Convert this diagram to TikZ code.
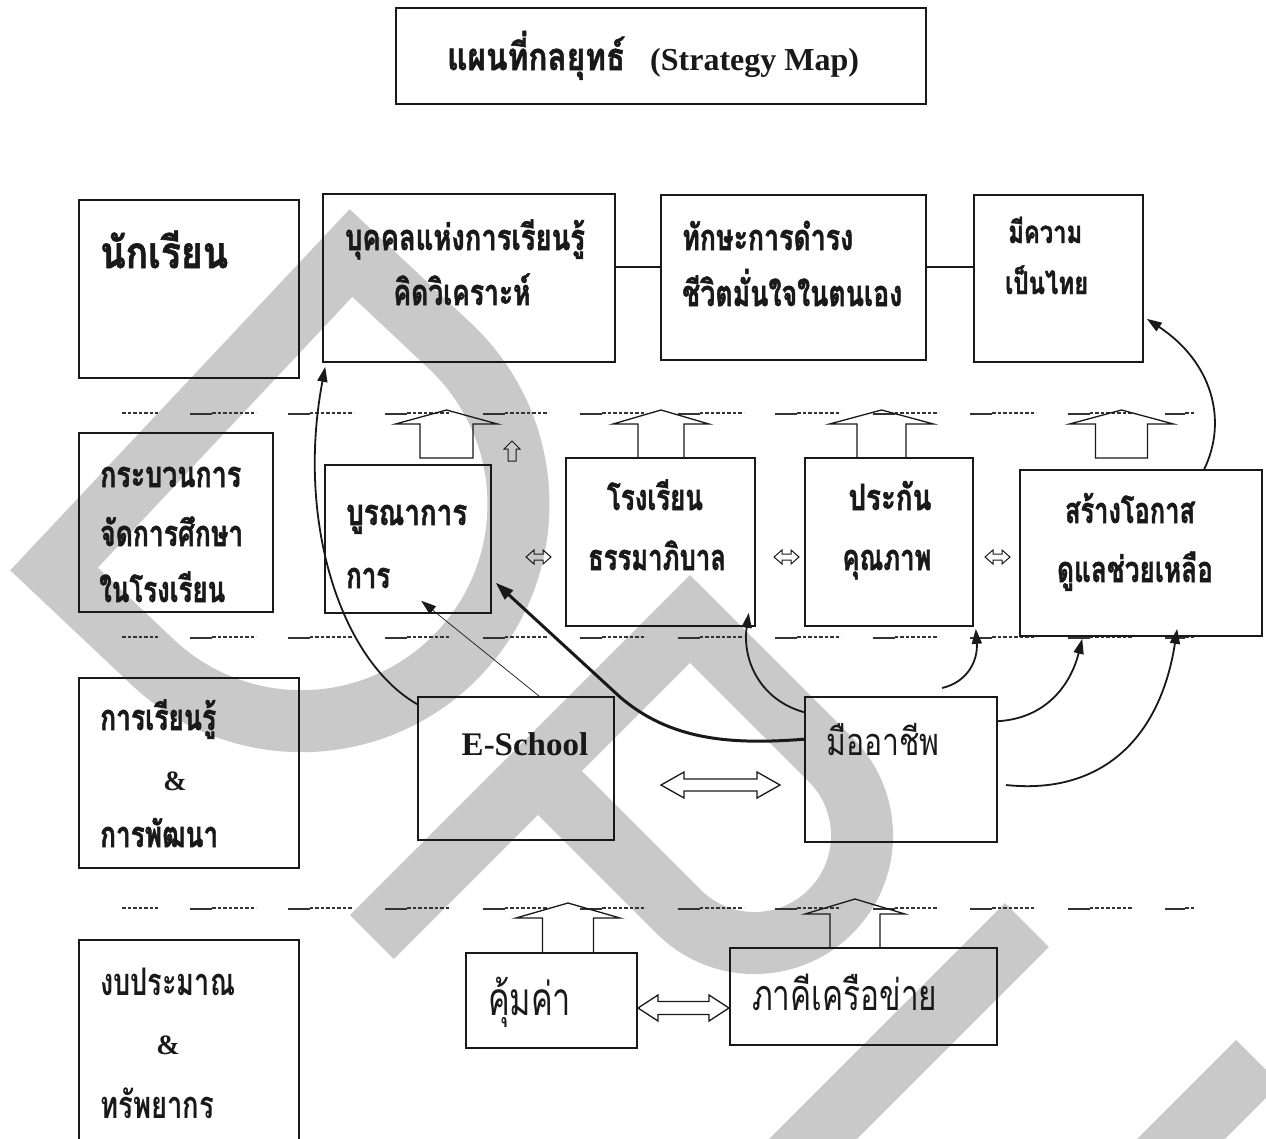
\documentclass[tikz,border=0pt]{standalone}
\usepackage{fontspec}
\usepackage{graphicx}
\setmainfont{Liberation Serif}
\newfontfamily\thai[Script=Thai]{Loma}
\newfontfamily\thaiheavy[Script=Thai,BoldFeatures={FakeBold=1.5}]{Loma}
\usetikzlibrary{arrows.meta,calc}

\definecolor{wm}{RGB}{201,201,201}
\definecolor{ink}{RGB}{25,25,25}

% Thai text squeezed to a given width: {width}{size}{text}
\newcommand\tbold[3]{\resizebox{#1pt}{\height}{\thaiheavy\bfseries\fontsize{#2pt}{#2pt}\selectfont #3}}
\newcommand\tmed[3]{\resizebox{#1pt}{\height}{\thai\bfseries\fontsize{#2pt}{#2pt}\selectfont #3}}
\newcommand\treg[3]{\resizebox{#1pt}{\height}{\thai\fontsize{#2pt}{#2pt}\selectfont #3}}

% box node from its corners: name, x1, y1, x2, y2
\newcommand\mkbox[5]{\node[box, minimum width={(#4-#2)*1pt}, minimum height={(#5-#3)*1pt}] (#1) at ({(#2+#4)/2},{(#3+#5)/2}) {};}

% hollow block arrow pointing up: cx, tip y, head base y, bottom y, head half width, shaft half width
\newcommand\blockup[6]{%
  \draw[blk] (#1,#2) -- ({#1+#5},#3) -- ({#1+#6},#3) -- ({#1+#6},#4) -- ({#1-#6},#4)
    -- ({#1-#6},#3) -- ({#1-#5},#3) -- cycle;}

% hollow two-headed block arrow: x1, x2, cy, head length, head half height, shaft half height
\newcommand\blockboth[6]{%
  \draw[blk] (#1,#3) -- ({#1+#4},{#3-#5}) -- ({#1+#4},{#3-#6}) -- ({#2-#4},{#3-#6})
    -- ({#2-#4},{#3-#5}) -- (#2,#3) -- ({#2-#4},{#3+#5}) -- ({#2-#4},{#3+#6})
    -- ({#1+#4},{#3+#6}) -- ({#1+#4},{#3+#5}) -- cycle;}

% separator between the perspectives: "----  ___-----  ___-----  ..."
\newcommand\sepline[1]{%
  \draw[sepdash] (122,#1) -- (158,#1);
  \foreach \k in {0,...,9}{
    \pgfmathsetmacro\xa{190+97.5*\k}
    \draw[sepsolid] (\xa,#1+1) -- (\xa+22,#1+1);
    \draw[sepdash] (\xa+22,#1) -- (\xa+66,#1);
  }
  \draw[sepsolid] (1165,#1+1) -- (1185,#1+1);
  \draw[sepdash] (1185,#1) -- (1195,#1);
}

\begin{document}
\begin{tikzpicture}[x=1pt,y=-1pt,
  box/.style={draw=ink, line width=1.6pt, inner sep=0pt, rectangle},
  txt/.style={inner sep=0pt, text=ink},
  conn/.style={draw=ink, line width=1.8pt, -{Triangle[length=15pt,width=10pt]}},
  thickconn/.style={draw=ink, line width=3pt, -{Triangle[length=18pt,width=12pt]}},
  thinconn/.style={draw=ink, line width=0.7pt, -{Triangle[length=15pt,width=10pt]}},
  blk/.style={draw=ink, line width=1.3pt, line join=miter},
  smallblk/.style={draw=ink, line width=1pt, line join=miter},
  link/.style={draw=ink, line width=1.3pt},
  sepsolid/.style={draw=black!80, line width=1.1pt},
  sepdash/.style={draw=black!80, line width=1.1pt, dash pattern=on 3.5pt off 2pt},
  wmark/.style={draw=wm, line width=62pt, line cap=butt, line join=miter}]

\useasboundingbox (0,0) rectangle (1266,1138);
\clip (0,0) rectangle (1266,1138);
\fill[white] (0,0) rectangle (1266,1138);

% background mark
\draw[wmark] (54,569) -- (351,253) -- (450,346) arc[start angle=-46.8, end angle=133.2, radius=217] -- cycle;
\draw[wmark] (372,937) -- (690,619) -- (832,761) arc[start angle=-43.9, end angle=136.1, radius=107.5] -- (535,768);
\draw[wmark] (1027,925) -- (780,1172);
\draw[wmark] (1258,1062) -- (1150,1170);

% separators
\sepline{413}
\sepline{637}
\sepline{908}

% boxes
\mkbox{title}{396}{8}{926}{104}
\mkbox{nak}{79}{200}{299}{378}
\mkbox{bukkhon}{323}{194}{615}{362}
\mkbox{thaksa}{661}{195}{926}{360}
\mkbox{mee}{974}{195}{1143}{362}
\mkbox{krabuan}{79}{433}{273}{612}
\mkbox{burana}{325}{465}{491}{613}
\mkbox{rongrian}{566}{458}{755}{626}
\mkbox{prakan}{805}{458}{973}{626}
\mkbox{sraang}{1020}{470}{1262}{636}
\mkbox{karrian}{79}{678}{299}{868}
\mkbox{esch}{418}{697}{614}{840}
\mkbox{mue}{805}{697}{997}{842}
\mkbox{ngob}{79}{940}{299}{1150}
\mkbox{khum}{466}{953}{637}{1048}
\mkbox{phaki}{730}{948}{997}{1045}

% texts
\node[txt, anchor=base west] (tTitle) at (447,70) {\tbold{178}{38}{แผนที่กลยุทธ์}\hspace{25pt}{\bfseries\fontsize{32pt}{33pt}\selectfont (Strategy Map)}};
\node[txt, anchor=base west] (tNak) at (100,268) {\tbold{128}{44}{นักเรียน}};
\node[txt, anchor=base] (tBuk1) at (465,250) {\tbold{240}{36}{บุคคลแห่งการเรียนรู้}};
\node[txt, anchor=base] (tBuk2) at (462,305) {\tbold{137}{36}{คิดวิเคราะห์}};
\node[txt, anchor=base west] (tTak1) at (682,250) {\tbold{171}{36}{ทักษะการดำรง}};
\node[txt, anchor=base west] (tTak2) at (682,306) {\tbold{220}{36}{ชีวิตมั่นใจในตนเอง}};
\node[txt, anchor=base west] (tMee1) at (1008,243) {\tbold{74}{31}{มีความ}};
\node[txt, anchor=base west] (tMee2) at (1005,294) {\tbold{83}{31}{เป็นไทย}};
\node[txt, anchor=base west] (tKra1) at (100,487) {\tbold{141}{36}{กระบวนการ}};
\node[txt, anchor=base west] (tKra2) at (100,546) {\tbold{143}{36}{จัดการศึกษา}};
\node[txt, anchor=base west] (tKra3) at (99,602) {\tbold{126}{36}{ในโรงเรียน}};
\node[txt, anchor=base west] (tBur1) at (346,525) {\tbold{121}{36}{บูรณาการ}};
\node[txt, anchor=base west] (tBur2) at (346,588) {\tbold{44}{36}{การ}};
\node[txt, anchor=base] (tRong1) at (655,510) {\tbold{96}{36}{โรงเรียน}};
\node[txt, anchor=base] (tRong2) at (657,570) {\tbold{138}{36}{ธรรมาภิบาล}};
\node[txt, anchor=base] (tPra1) at (890,510) {\tbold{83}{36}{ประกัน}};
\node[txt, anchor=base] (tPra2) at (887,570) {\tbold{89}{36}{คุณภาพ}};
\node[txt, anchor=base] (tSra1) at (1130,523) {\tbold{130}{36}{สร้างโอกาส}};
\node[txt, anchor=base] (tSra2) at (1135,582) {\tbold{156}{36}{ดูแลช่วยเหลือ}};
\node[txt, anchor=base west] (tKar1) at (100,730) {\tbold{116}{36}{การเรียนรู้}};
\node[txt, anchor=base] (tKar2) at (175,790) {\bfseries\fontsize{28pt}{28pt}\selectfont\&};
\node[txt, anchor=base west] (tKar3) at (100,847) {\tbold{118}{36}{การพัฒนา}};
\node[txt, anchor=base] (tEsch) at (525,755) {\bfseries\fontsize{33pt}{34pt}\selectfont E-School};
\node[txt, anchor=base west] (tMue) at (826,755) {\treg{113}{38}{มืออาชีพ}};
\node[txt, anchor=base west] (tNgob1) at (100,995) {\tmed{135}{38}{งบประมาณ}};
\node[txt, anchor=base] (tNgob2) at (168,1054) {\bfseries\fontsize{28pt}{28pt}\selectfont\&};
\node[txt, anchor=base west] (tNgob3) at (100,1118) {\tmed{114}{38}{ทรัพยากร}};
\node[txt, anchor=base west] (tKhum) at (488,1015) {\treg{83}{46}{คุ้มค่า}};
\node[txt, anchor=base west] (tPhaki) at (752,1010) {\treg{185}{43}{ภาคีเครือข่าย}};

% links between the student outcomes
\draw[link] ([yshift=11pt]bukkhon.east) -- ([yshift=10.5pt]thaksa.west);
\draw[link] ([yshift=10.5pt]thaksa.east) -- ([yshift=11.5pt]mee.west);

% hollow block arrows
\blockup{446.5}{410}{424}{458}{51}{26.5}
\blockup{661}{410}{424}{458}{48}{23}
\blockup{881.5}{410}{424}{458}{52}{24.5}
\blockup{1121.5}{410}{424}{458}{52}{26}
\blockup{568}{903}{918}{953}{52}{25.5}
\blockup{855}{899}{914}{948}{50}{25}
\blockboth{661}{780}{785}{23}{13}{6}
\blockboth{638}{729}{1008}{20}{13}{6.5}
\begin{scope}[blk/.style=smallblk]
  \blockup{512}{441}{449}{461}{8}{4}
  \blockboth{526}{551}{557}{8}{7}{3}
  \blockboth{774}{799}{557}{8}{7}{3}
  \blockboth{985}{1010}{557}{8}{7}{3}
\end{scope}

% cause-and-effect connectors
\coordinate (c5s) at (942,688);
\coordinate (c7s) at (1006,785);
\draw[conn] ([yshift=-8pt]esch.north west) .. controls (340,660) and (296,520) .. ([xshift=3pt,yshift=-4pt]bukkhon.south west);
\draw[thinconn] ([xshift=122pt]esch.north west) -- ([xshift=97pt,yshift=13pt]burana.south west);
\draw[thickconn] ([yshift=-43pt]mue.north west) .. controls (730,745) and (670,740) .. (620,697) -- ([xshift=4pt,yshift=31pt]burana.south east);
\draw[conn] ([yshift=-16pt]mue.north west) .. controls (760,700) and (742,660) .. ([xshift=-7pt,yshift=14pt]rongrian.south east);
\draw[conn] (c5s) .. controls (968,682) and (978,660) .. ([xshift=2pt,yshift=-2pt]prakan.south east);
\draw[conn] ([yshift=-25pt]mue.north east) .. controls (1050,718) and (1072,680) .. ([xshift=63pt,yshift=-2pt]sraang.south west);
\draw[conn] (c7s) .. controls (1100,795) and (1160,740) .. ([xshift=158pt,yshift=8pt]sraang.south west);
\draw[conn] ([xshift=185pt]sraang.north west) .. controls (1228,420) and (1212,362) .. ([xshift=3pt,yshift=44pt]mee.south east);

\end{tikzpicture}
\end{document}
